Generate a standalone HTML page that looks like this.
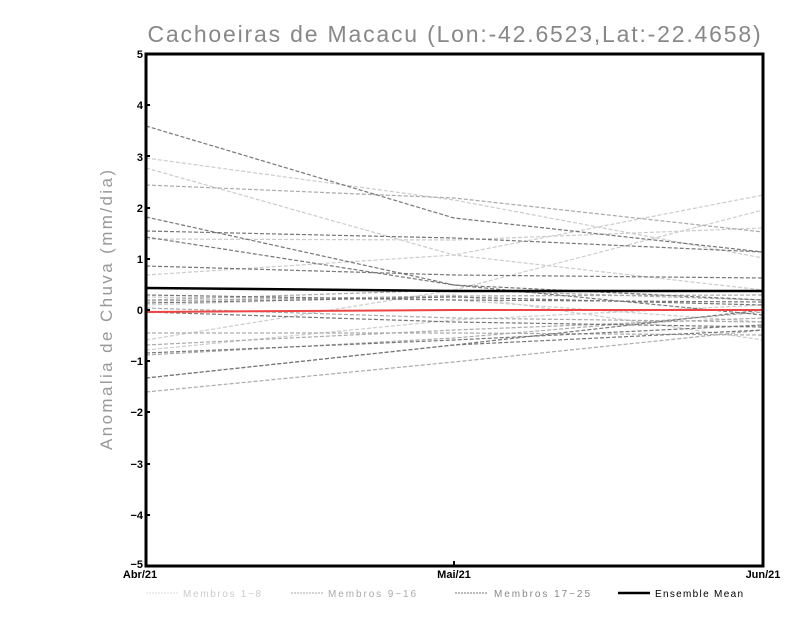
<!DOCTYPE html>
<html><head><style>body{margin:0;background:#fff}svg{display:block}</style></head><body>
<svg width="800" height="618" xmlns="http://www.w3.org/2000/svg" font-family="Liberation Sans, sans-serif">
<rect width="800" height="618" fill="#fff"/>
<text x="455" y="42" font-size="23" fill="#888" text-anchor="middle" letter-spacing="1.9" textLength="615" lengthAdjust="spacing">Cachoeiras de Macacu (Lon:-42.6523,Lat:-22.4658)</text>
<text transform="translate(112,310) rotate(-90)" font-size="17" fill="#999" text-anchor="middle" textLength="280" lengthAdjust="spacing">Anomalia de Chuva (mm/dia)</text>
<g fill="none" stroke-width="1.2" stroke-dasharray="4,2">
<g stroke="#ccc">
<polyline points="146,158 454,200 763,258"/>
<polyline points="146,168 454,255 763,290"/>
<polyline points="146,275 454,255 763,195"/>
<polyline points="146,340 454,290 763,210"/>
<polyline points="146,239 454,240 763,228"/>
<polyline points="146,297 454,300 763,322"/>
<polyline points="146,350 454,320 763,305"/>
<polyline points="146,305 454,295 763,340"/>
</g>
<g stroke="#aaa">
<polyline points="146,392 454,362 763,330"/>
<polyline points="146,333 454,333 763,335"/>
<polyline points="146,300 454,290 763,300"/>
<polyline points="146,185 454,198 763,232"/>
<polyline points="146,345 454,330 763,318"/>
<polyline points="146,301 454,296 763,295"/>
<polyline points="146,308 454,318 763,322"/>
<polyline points="146,355 454,338 763,312"/>
</g>
<g stroke="#777">
<polyline points="146,126 454,218 763,252"/>
<polyline points="146,217 454,285 763,300"/>
<polyline points="146,231 454,238 763,252"/>
<polyline points="146,237 454,285 763,315"/>
<polyline points="146,266 454,275 763,278"/>
<polyline points="146,378 454,345 763,310"/>
<polyline points="146,378 454,345 763,330"/>
<polyline points="146,353 454,340 763,325"/>
<polyline points="146,303 454,297 763,305"/>
<polyline points="146,312 454,322 763,327"/>
<polyline points="146,295 454,300 763,302"/>
</g>
</g>
<polyline points="146,312 454,310 763,310" fill="none" stroke="#e44" stroke-width="2"/>
<polyline points="146,288 454,291 763,291" fill="none" stroke="#000" stroke-width="2.5"/>
<rect x="146" y="54" width="617" height="512" fill="none" stroke="#000" stroke-width="3"/>
<g font-size="11" font-weight="bold" text-anchor="end">
<text x="143" y="58">5</text><text x="143" y="109">4</text><text x="143" y="161">3</text><text x="143" y="212">2</text><text x="143" y="263">1</text><text x="143" y="314">0</text><text x="143" y="365">−1</text><text x="143" y="416">−2</text><text x="143" y="468">−3</text><text x="143" y="519">−4</text><text x="143" y="568">−5</text>
</g>
<g stroke="#000" stroke-width="2">
<line x1="146" y1="105" x2="150" y2="105"/><line x1="146" y1="156" x2="150" y2="156"/><line x1="146" y1="208" x2="150" y2="208"/><line x1="146" y1="259" x2="150" y2="259"/><line x1="146" y1="310" x2="150" y2="310"/><line x1="146" y1="361" x2="150" y2="361"/><line x1="146" y1="412" x2="150" y2="412"/><line x1="146" y1="464" x2="150" y2="464"/><line x1="146" y1="515" x2="150" y2="515"/>
<line x1="454" y1="566" x2="454" y2="561"/>
</g>
<g font-size="11" font-weight="bold" text-anchor="middle">
<text x="140" y="578">Abr/21</text><text x="454" y="578">Mai/21</text><text x="763" y="578">Jun/21</text>
</g>
<g font-size="10">
<line x1="146" y1="593" x2="178" y2="593" stroke="#ddd" stroke-dasharray="2,1"/><text x="183" y="597" fill="#ccc" textLength="78">Membros 1−8</text>
<line x1="291" y1="593" x2="323" y2="593" stroke="#aaa" stroke-dasharray="2,1"/><text x="328" y="597" fill="#aaa" textLength="88">Membros 9−16</text>
<line x1="455" y1="593" x2="487" y2="593" stroke="#777" stroke-dasharray="2,1"/><text x="494" y="597" fill="#888" textLength="96">Membros 17−25</text>
<line x1="618" y1="593" x2="650" y2="593" stroke="#000" stroke-width="2.5"/><text x="655" y="597" fill="#000" textLength="88">Ensemble Mean</text>
</g>
</svg>
</body></html>
